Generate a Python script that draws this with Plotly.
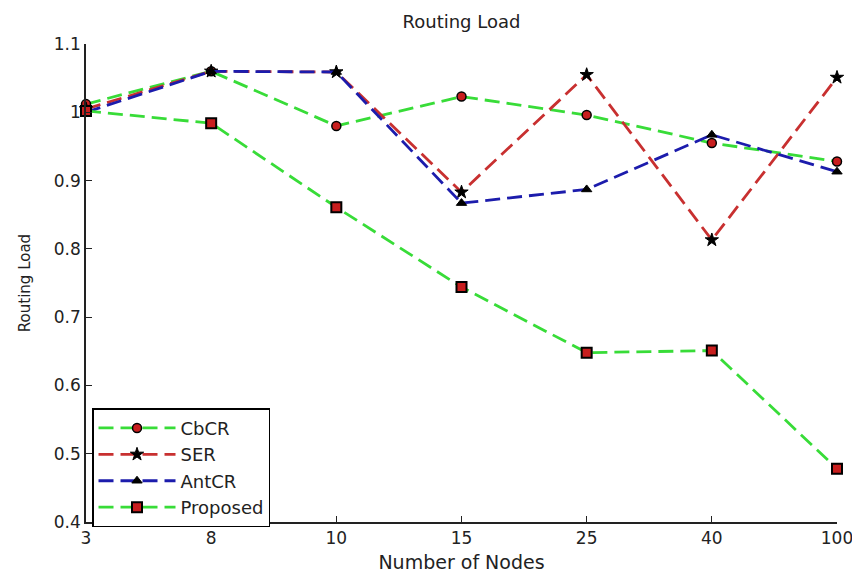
import plotly.graph_objects as go

nodes = ["3", "8", "10", "15", "25", "40", "100"]
cbcr = [1.012, 1.060, 0.980, 1.023, 0.996, 0.955, 0.928]
ser = [1.005, 1.060, 1.059, 0.883, 1.055, 0.813, 1.051]
antcr = [1.000, 1.060, 1.059, 0.867, 0.887, 0.967, 0.913]
proposed = [1.002, 0.984, 0.861, 0.744, 0.648, 0.651, 0.478]

FONT = "DejaVu Sans, Liberation Sans, Arial, sans-serif"
GREEN = "#38dc38"
RED = "#c83030"
BLUE = "#1c1cac"
DASH = "15px,7px"
TXT = "#222222"

fig = go.Figure()
fig.add_trace(go.Scatter(
    x=nodes, y=cbcr, name="CbCR", mode="lines+markers", cliponaxis=False,
    line=dict(color=GREEN, width=2.8, dash=DASH),
    marker=dict(symbol="circle", size=9, color="#c81e1e", line=dict(color="black", width=1.5))))
fig.add_trace(go.Scatter(
    x=nodes, y=ser, name="SER", mode="lines+markers", cliponaxis=False,
    line=dict(color=RED, width=2.8, dash=DASH),
    marker=dict(symbol="star", size=10, color="black", line=dict(color="black", width=1))))
fig.add_trace(go.Scatter(
    x=nodes, y=antcr, name="AntCR", mode="lines+markers", cliponaxis=False,
    line=dict(color=BLUE, width=2.8, dash=DASH),
    marker=dict(symbol="triangle-up", size=9, color="black", line=dict(color="black", width=1))))
fig.add_trace(go.Scatter(
    x=nodes, y=proposed, name="Proposed", mode="lines+markers", cliponaxis=False,
    line=dict(color=GREEN, width=2.8, dash=DASH),
    marker=dict(symbol="square", size=10, color="#c81e1e", line=dict(color="black", width=2))))

fig.update_layout(
    width=852, height=573,
    margin=dict(l=86, r=15, t=44, b=51),
    paper_bgcolor="white", plot_bgcolor="white",
    font=dict(family=FONT, size=17, color=TXT),
    title=dict(text="Routing Load", x=0.5, xanchor="center", xref="paper",
               y=1 - 22 / 573, yanchor="middle", font=dict(size=18, color=TXT)),
    showlegend=True,
    legend=dict(x=0.008, y=0.238, xanchor="left", yanchor="top",
                bgcolor="white", bordercolor="black", borderwidth=1.5,
                font=dict(size=18), tracegroupgap=0, itemwidth=77),
    xaxis=dict(type="category", range=[0, 6], showgrid=False, zeroline=False,
               showline=True, linecolor=TXT, linewidth=1.5,
               ticks="inside", ticklen=6, tickcolor=TXT, tickwidth=1,
               tickfont=dict(size=17), automargin=False,
               title=dict(text="Number of Nodes", standoff=15, font=dict(size=19))),
    yaxis=dict(range=[0.4, 1.1], dtick=0.1, tick0=0.4, showgrid=False, zeroline=False,
               showline=True, linecolor=TXT, linewidth=1.5,
               ticks="inside", ticklen=6, tickcolor=TXT, tickwidth=1,
               tickfont=dict(size=17), automargin=False,
               title=dict(text="Routing Load", standoff=20, font=dict(size=15))),
)

fig.write_html("out.html")
